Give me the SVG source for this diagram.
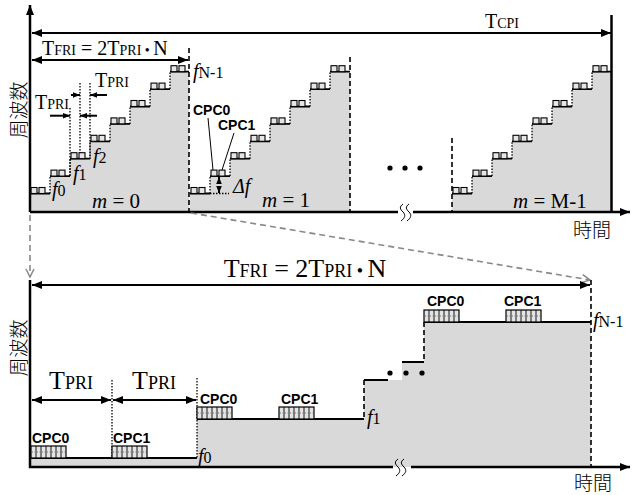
<svg xmlns="http://www.w3.org/2000/svg" xmlns:xlink="http://www.w3.org/1999/xlink" width="632" height="495" viewBox="0 0 632 495">
<style>
.t{font-family:"Liberation Serif","Times New Roman",serif;fill:#000}
.i{font-style:italic}
.cpc{font-family:"Liberation Sans",Arial,sans-serif;font-weight:bold;font-size:14px;fill:#000}
.jp{font-family:"Noto Sans CJK JP","Noto Sans CJK SC",sans-serif;font-size:19px;font-weight:300;fill:#000}
.ax{stroke:#000;stroke-width:2.5;fill:none}
.ar{stroke:#000;stroke-width:2;fill:none}
.lv{stroke:#000;stroke-width:1.8;fill:none}
.dot{stroke:#000;stroke-width:1.3;stroke-dasharray:1.5 1.5;fill:none}
.dash{stroke:#000;stroke-width:1.6;stroke-dasharray:5 3;fill:none}
.gray{fill:#d9d9d9;stroke:none}
.conn{stroke:#888;stroke-width:1.6;stroke-dasharray:6 4;fill:none}
.thin{stroke:#000;stroke-width:1;fill:none}
</style>
<defs>
<marker id="ah" viewBox="0 0 10 8" refX="10" refY="4" markerWidth="10" markerHeight="8" markerUnits="userSpaceOnUse" orient="auto-start-reverse"><path d="M0 0L10 4L0 8z" fill="#000"/></marker>
<marker id="ahs" viewBox="0 0 10 8" refX="10" refY="4" markerWidth="7" markerHeight="6" markerUnits="userSpaceOnUse" orient="auto-start-reverse"><path d="M0 0L10 4L0 8z" fill="#000"/></marker>
<marker id="gah" viewBox="0 0 10 10" refX="9" refY="5" markerWidth="10" markerHeight="10" markerUnits="userSpaceOnUse" orient="auto"><path d="M1 1L9 5L1 9" fill="none" stroke="#888" stroke-width="1.5"/></marker>
<g id="pp"><rect x="1" y="-6" width="6" height="6" fill="#e6e6e6" stroke="#000" stroke-width="1.1"/><rect x="9" y="-6" width="6" height="6" fill="#e6e6e6" stroke="#000" stroke-width="1.1"/></g>
<g id="cpcbox"><rect x="0" y="0" width="35" height="12" fill="#e4e4e4" stroke="#000" stroke-width="1.2"/><path d="M5 0V12M10 0V12M15 0V12M20 0V12M25 0V12M30 0V12" stroke="#000" stroke-width="0.9"/><path d="M1 6H34" stroke="#777" stroke-width="1" stroke-dasharray="1 1.5"/></g>
</defs>

<g id="top-panel">
<path class="gray" d="M30 212V193.5H50V176.1H70V158.7H90V141.3H110V123.9H130V106.5H150V89.1H170V71.7H189V212Z"/>
<path class="gray" d="M190 212V193.5H210V176.1H230V158.7H250V141.3H270V123.9H290V106.5H310V89.1H330V71.7H350V212Z"/>
<path class="gray" d="M452 212V193.5H472V176.1H492V158.7H512V141.3H532V123.9H552V106.5H572V89.1H592V71.7H612V212Z"/>
<path class="lv" d="M30 193.5H50M50 176.1H70M70 158.7H90M90 141.3H110M110 123.9H130M130 106.5H150M150 89.1H170M170 71.7H189"/>
<path class="lv" d="M190 193.5H210M210 176.1H230M230 158.7H250M250 141.3H270M270 123.9H290M290 106.5H310M310 89.1H330M330 71.7H350"/>
<path class="lv" d="M452 193.5H472M472 176.1H492M492 158.7H512M512 141.3H532M532 123.9H552M552 106.5H572M572 89.1H592M592 71.7H612"/>
<path class="dot" d="M50 193.5V176.1M70 176.1V158.7M90 158.7V141.3M110 141.3V123.9M130 123.9V106.5M150 106.5V89.1M170 89.1V71.7"/>
<path class="dot" d="M210 193.5V176.1M230 176.1V158.7M250 158.7V141.3M270 141.3V123.9M290 123.9V106.5M310 106.5V89.1M330 89.1V71.7"/>
<path class="dot" d="M472 193.5V176.1M492 176.1V158.7M512 158.7V141.3M532 141.3V123.9M552 123.9V106.5M572 106.5V89.1M592 89.1V71.7"/>
<g id="pulses">
<use href="#pp" x="30" y="193.5"/><use href="#pp" x="50" y="176.1"/><use href="#pp" x="70" y="158.7"/><use href="#pp" x="90" y="141.3"/><use href="#pp" x="110" y="123.9"/><use href="#pp" x="130" y="106.5"/><use href="#pp" x="150" y="89.1"/><use href="#pp" x="170" y="71.7"/>
<use href="#pp" x="190" y="193.5"/><use href="#pp" x="210" y="176.1"/><use href="#pp" x="230" y="158.7"/><use href="#pp" x="250" y="141.3"/><use href="#pp" x="270" y="123.9"/><use href="#pp" x="290" y="106.5"/><use href="#pp" x="310" y="89.1"/><use href="#pp" x="330" y="71.7"/>
<use href="#pp" x="452" y="193.5"/><use href="#pp" x="472" y="176.1"/><use href="#pp" x="492" y="158.7"/><use href="#pp" x="512" y="141.3"/><use href="#pp" x="532" y="123.9"/><use href="#pp" x="552" y="106.5"/><use href="#pp" x="572" y="89.1"/><use href="#pp" x="592" y="71.7"/>
</g>
<path class="dash" d="M189 48V212M350 57V212M452 138V212"/>
<path class="ax" d="M611.5 15V212"/>
<path class="ax" d="M30 212V5" marker-end="url(#ah)"/>
<path class="ax" d="M30 212H398M413 212H630" marker-end="url(#ah)"/>
<path class="thin" stroke-width="1.3" d="M403 204c-4 3-3 5 0 8c3 3 2 6-2 9M409 204c-4 3-3 5 0 8c3 3 2 6-2 9"/>
<path class="ar" d="M32 33H611" marker-start="url(#ah)" marker-end="url(#ah)"/>
<text class="t" x="502" y="28" font-size="20" text-anchor="middle">T<tspan font-size="14">CPI</tspan></text>
<path class="ar" d="M32 60H188" marker-start="url(#ah)" marker-end="url(#ah)"/>
<text class="t" x="42" y="55" font-size="20">T<tspan font-size="14">FRI</tspan> = 2T<tspan font-size="14">PRI</tspan><tspan font-size="14"> • </tspan>N</text>
<path class="dot" d="M70 108V176.1M80 83V153M90 83V158.7"/>
<path class="ar" stroke-width="1.5" d="M71 95H80" marker-end="url(#ahs)"/>
<path class="ar" stroke-width="1.5" d="M107 95H90" marker-end="url(#ahs)"/>
<text class="t" x="95" y="87" font-size="20">T<tspan font-size="14">PRI</tspan></text>
<path class="ar" stroke-width="1.5" d="M50 115.7H70" marker-end="url(#ahs)"/>
<path class="ar" stroke-width="1.5" d="M97 115.7H80" marker-end="url(#ahs)"/>
<text class="t" x="35" y="109" font-size="20">T<tspan font-size="14">PRI</tspan></text>
<text class="t" x="52" y="196" font-size="20"><tspan class="i">f</tspan><tspan font-size="16">0</tspan></text>
<text class="t" x="73" y="180" font-size="20"><tspan class="i">f</tspan><tspan font-size="16">1</tspan></text>
<text class="t" x="93" y="163" font-size="20"><tspan class="i">f</tspan><tspan font-size="16">2</tspan></text>
<text class="t" x="193" y="78" font-size="20"><tspan class="i">f</tspan><tspan font-size="16">N-1</tspan></text>
<text class="t" x="92" y="208" font-size="21"><tspan class="i">m</tspan> = 0</text>
<text class="t" x="262" y="207" font-size="21"><tspan class="i">m</tspan> = 1</text>
<text class="t" x="513" y="208" font-size="21"><tspan class="i">m</tspan> = M-1</text>
<text class="cpc" x="193" y="115">CPC0</text>
<text class="cpc" x="218" y="130">CPC1</text>
<path class="thin" d="M208 118L213 170M234 133L222 170"/>
<path class="dot" d="M210 193.5H229"/>
<path class="ar" stroke-width="1.3" d="M219 184V177" marker-end="url(#ahs)"/>
<path class="ar" stroke-width="1.3" d="M219 186V193" marker-end="url(#ahs)"/>
<text class="t" x="233" y="193" font-size="20"><tspan class="i">Δf</tspan></text>
<circle cx="390" cy="168" r="2.6"/><circle cx="405" cy="168" r="2.6"/><circle cx="420" cy="168" r="2.6"/>
<text class="jp" x="573" y="237">時間</text>
<text class="jp" x="17" y="110" text-anchor="middle" dominant-baseline="central" transform="rotate(-90 17 110)">周波数</text>
</g>

<g id="connectors">
<path class="conn" d="M30 215V277" marker-end="url(#gah)"/>
<path class="conn" d="M191 213L590 280" marker-end="url(#gah)"/>
</g>

<g id="bottom-panel">
<path class="gray" d="M30 467V458H197V419H364V380H402V362H424V322H591V467Z"/>
<path class="lv" stroke-width="2" d="M30 458H197M197 419H364M364 380H388M402 362H424M424 322H591"/>
<path class="dot" d="M112 380V458M197 378V458"/>
<path class="dash" d="M364 380V419M424 322V362M591 280V467"/>
<path class="ax" d="M30 280V467H393M411 467H630" marker-end="url(#ah)"/>
<path class="thin" stroke-width="1.3" d="M398 459c-4 3-3 5 0 8c3 3 2 6-2 9M404 459c-4 3-3 5 0 8c3 3 2 6-2 9"/>
<path class="ar" d="M32 285H590" marker-start="url(#ah)" marker-end="url(#ah)"/>
<text class="t" x="305" y="277" font-size="26" text-anchor="middle">T<tspan font-size="18">FRI</tspan> = 2T<tspan font-size="18">PRI</tspan><tspan font-size="18"> • </tspan>N</text>
<path class="ar" d="M32 400H111" marker-start="url(#ah)" marker-end="url(#ah)"/>
<path class="ar" d="M113 400H196" marker-start="url(#ah)" marker-end="url(#ah)"/>
<text class="t" x="71" y="389" font-size="26" text-anchor="middle">T<tspan font-size="18">PRI</tspan></text>
<text class="t" x="154" y="389" font-size="26" text-anchor="middle">T<tspan font-size="18">PRI</tspan></text>
<use href="#cpcbox" x="31" y="446"/><use href="#cpcbox" x="112" y="446"/>
<use href="#cpcbox" x="197" y="407"/><use href="#cpcbox" x="279" y="407"/>
<use href="#cpcbox" x="424" y="310"/><use href="#cpcbox" x="506" y="310"/>
<text class="cpc" x="32" y="443">CPC0</text>
<text class="cpc" x="113" y="443">CPC1</text>
<text class="cpc" x="200" y="404">CPC0</text>
<text class="cpc" x="281" y="404">CPC1</text>
<text class="cpc" x="427" y="306">CPC0</text>
<text class="cpc" x="504" y="306">CPC1</text>
<text class="t" x="198" y="463" font-size="20"><tspan class="i">f</tspan><tspan font-size="16">0</tspan></text>
<text class="t" x="367" y="424" font-size="20"><tspan class="i">f</tspan><tspan font-size="16">1</tspan></text>
<text class="t" x="593" y="327" font-size="20"><tspan class="i">f</tspan><tspan font-size="16">N-1</tspan></text>
<circle cx="390" cy="373" r="2.6"/><circle cx="406" cy="373" r="2.6"/><circle cx="422" cy="373" r="2.6"/>
<text class="jp" x="574" y="490">時間</text>
<text class="jp" x="17" y="348" text-anchor="middle" dominant-baseline="central" transform="rotate(-90 17 348)">周波数</text>
</g>
</svg>
